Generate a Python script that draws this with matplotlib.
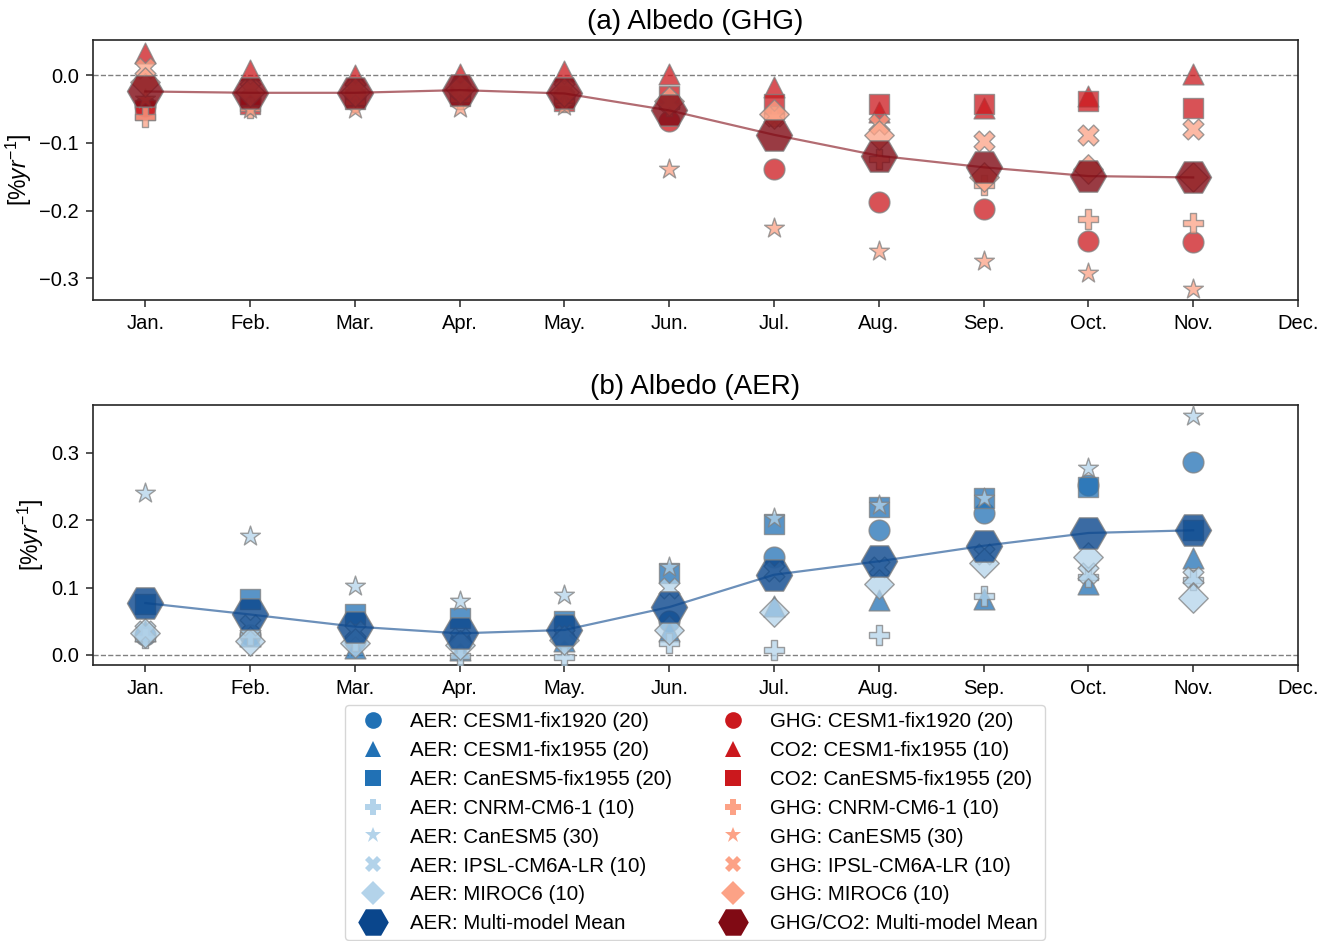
import matplotlib
matplotlib.use("Agg")
import matplotlib.pyplot as plt
from matplotlib.lines import Line2D
import numpy as np

plt.rcParams['font.family'] = ['Liberation Sans', 'DejaVu Sans']
plt.rcParams['mathtext.fontset'] = 'custom'
plt.rcParams['mathtext.rm'] = 'Liberation Sans'
plt.rcParams['mathtext.it'] = 'Liberation Sans:italic'

month_labels = ['Jan.', 'Feb.', 'Mar.', 'Apr.', 'May.', 'Jun.', 'Jul.', 'Aug.', 'Sep.', 'Oct.', 'Nov.', 'Dec.']

# ---- (a) GHG / CO2 trends, Jan..Nov ----
ghg_cesm1_fix1920 = [-0.045, -0.035, -0.030, -0.025, -0.030, -0.068, -0.139, -0.187, -0.197, -0.245, -0.246]
co2_cesm1_fix1955 = [0.033, 0.008, 0.000, 0.002, 0.006, 0.002, -0.018, -0.055, -0.048, -0.030, 0.002]
co2_canesm5_fix1955 = [-0.052, -0.042, -0.035, -0.030, -0.038, -0.030, -0.043, -0.043, -0.043, -0.038, -0.049]
ghg_cnrm = [-0.062, -0.048, -0.040, -0.035, -0.040, -0.045, -0.060, -0.124, -0.162, -0.213, -0.218]
ghg_canesm5 = [-0.035, -0.050, -0.050, -0.048, -0.046, -0.139, -0.225, -0.259, -0.274, -0.292, -0.316]
ghg_ipsl = [0.010, -0.020, -0.020, -0.020, -0.020, -0.040, -0.060, -0.072, -0.097, -0.088, -0.080]
ghg_miroc6 = [-0.010, -0.025, -0.025, -0.020, -0.025, -0.038, -0.058, -0.088, -0.150, -0.138, -0.151]
ghg_mean = [-0.024, -0.026, -0.026, -0.022, -0.027, -0.052, -0.088, -0.119, -0.136, -0.149, -0.151]

# ---- (b) AER trends, Jan..Nov ----
aer_cesm1_fix1920 = [0.030, 0.030, 0.020, 0.020, 0.025, 0.050, 0.145, 0.185, 0.210, 0.252, 0.287]
aer_cesm1_fix1955 = [0.035, 0.028, 0.010, 0.008, 0.020, 0.035, 0.072, 0.082, 0.083, 0.106, 0.144]
aer_canesm5_fix1955 = [0.075, 0.083, 0.060, 0.055, 0.050, 0.121, 0.195, 0.220, 0.233, 0.249, 0.185]
aer_cnrm = [0.025, 0.030, 0.020, -0.002, -0.003, 0.017, 0.007, 0.030, 0.087, 0.116, 0.111]
aer_canesm5 = [0.240, 0.176, 0.103, 0.080, 0.089, 0.131, 0.203, 0.223, 0.233, 0.277, 0.354]
aer_ipsl = [0.035, 0.045, 0.035, 0.025, 0.030, 0.100, 0.125, 0.130, 0.150, 0.121, 0.116]
aer_miroc6 = [0.032, 0.020, 0.017, 0.015, 0.022, 0.037, 0.063, 0.106, 0.137, 0.146, 0.084]
aer_mean = [0.077, 0.060, 0.042, 0.032, 0.037, 0.071, 0.119, 0.139, 0.162, 0.181, 0.185]

aer_labels = ['AER: CESM1-fix1920 (20)', 'AER: CESM1-fix1955 (20)', 'AER: CanESM5-fix1955 (20)',
              'AER: CNRM-CM6-1 (10)', 'AER: CanESM5 (30)', 'AER: IPSL-CM6A-LR (10)',
              'AER: MIROC6 (10)', 'AER: Multi-model Mean']
ghg_labels = ['GHG: CESM1-fix1920 (20)', 'CO2: CESM1-fix1955 (10)', 'CO2: CanESM5-fix1955 (20)',
              'GHG: CNRM-CM6-1 (10)', 'GHG: CanESM5 (30)', 'GHG: IPSL-CM6A-LR (10)',
              'GHG: MIROC6 (10)', 'GHG/CO2: Multi-model Mean']

markers = ['o', '^', 's', 'P', '*', 'X', 'D', 'H']
blue_dark, blue_light, blue_mean = '#2171b5', '#b3d3ea', '#0a468c'
red_dark, red_light, red_mean = '#cb181d', '#fca286', '#800a14'
aer_colors = [blue_dark] * 3 + [blue_light] * 4 + [blue_mean]
ghg_colors = [red_dark] * 3 + [red_light] * 4 + [red_mean]

ghg_series = [ghg_cesm1_fix1920, co2_cesm1_fix1955, co2_canesm5_fix1955, ghg_cnrm,
              ghg_canesm5, ghg_ipsl, ghg_miroc6, ghg_mean]
aer_series = [aer_cesm1_fix1920, aer_cesm1_fix1955, aer_canesm5_fix1955, aer_cnrm,
              aer_canesm5, aer_ipsl, aer_miroc6, aer_mean]

fig = plt.figure(figsize=(13.3, 9.41), dpi=100)
ax1 = fig.add_axes([0.0699, 0.6812, 0.906, 0.2763])
ax2 = fig.add_axes([0.0699, 0.2933, 0.906, 0.2763])

def draw(ax, series, colors, title, ylim, yticks):
    x = np.arange(len(series[0]))
    ax.axhline(0, color='grey', ls='--', lw=1.0, zorder=1)
    for i, (vals, mk, col) in enumerate(zip(series, markers, colors)):
        is_mean = (i == len(series) - 1)
        ax.scatter(x, vals, marker=mk, s=(26 ** 2 if is_mean else 15 ** 2), c=col,
                   alpha=0.8 if is_mean else 0.75, edgecolors='grey', linewidths=1.0,
                   zorder=4 if is_mean else 3)
    ax.plot(x, series[-1], color=colors[-1], alpha=0.6, lw=1.6, zorder=5)
    ax.set_xlim(-0.5, 11)
    ax.set_xticks(np.arange(12))
    ax.set_xticklabels(month_labels)
    ax.set_ylim(*ylim)
    ax.set_yticks(yticks)
    ax.set_ylabel(r'[$\%yr^{-1}$]', fontsize=16.5)
    ax.set_title(title, fontsize=20, pad=8)
    ax.tick_params(labelsize=14.5, length=5, width=1.1, color='#262626', direction='out', pad=5)
    for sp in ax.spines.values():
        sp.set_color('#262626')
        sp.set_linewidth(1.2)

draw(ax1, ghg_series, ghg_colors, '(a) Albedo (GHG)', (-0.332, 0.052), [-0.3, -0.2, -0.1, 0.0])
draw(ax2, aer_series, aer_colors, '(b) Albedo (AER)', (-0.015, 0.371), [0.0, 0.1, 0.2, 0.3])

handles = []
labels = []
for lbls, cols in ((aer_labels, aer_colors), (ghg_labels, ghg_colors)):
    for lab, mk, col in zip(lbls, markers, cols):
        handles.append(Line2D([], [], ls='none', marker=mk, color=col,
                              markersize=22 if mk == 'H' else 12, markeredgewidth=0))
        labels.append(lab)

fig.legend(handles, labels, loc='upper center', bbox_to_anchor=(0.5226, 0.2508), ncol=2,
           fontsize=14.8, frameon=True, labelspacing=0.48, columnspacing=2.0,
           handletextpad=0.8, borderpad=0.35, borderaxespad=0.0,
           edgecolor='#cccccc', fancybox=True)

fig.savefig('out.png', dpi=100)
